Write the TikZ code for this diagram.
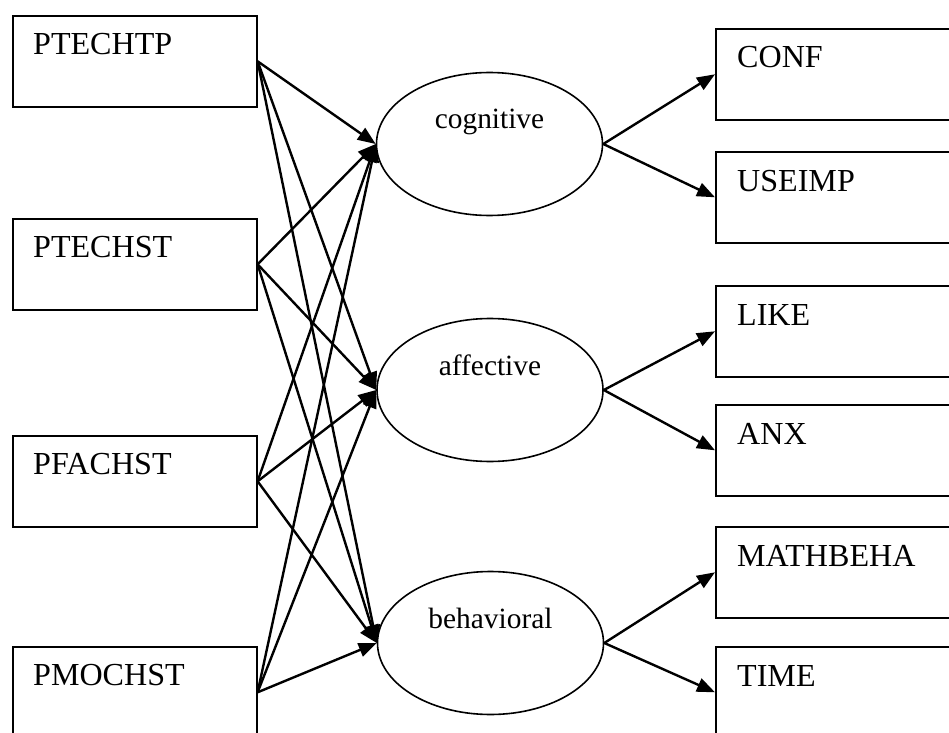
\documentclass[tikz,border=0pt]{standalone}
\usepackage{fontspec}
\setmainfont{Liberation Serif}
\usetikzlibrary{arrows.meta,calc,shapes.geometric}

\tikzset{
  varbox/.style={draw, line width=1.6bp, minimum width=244bp, minimum height=91bp,
                 inner sep=0pt, anchor=north west},
  indbox/.style={varbox, minimum width=300bp},
  boxtext/.style={font=\fontsize{32.2}{36}\selectfont, anchor=base west, inner sep=0pt},
  factor/.style={draw, ellipse, line width=1.6bp, minimum width=226bp,
                 minimum height=143bp, inner sep=0pt},
  factortext/.style={font=\fontsize{29.5}{34}\selectfont, anchor=base, inner sep=0pt},
  effect/.style={line width=2.4bp, -{Triangle[length=18bp,width=14bp]}}
}

\begin{document}
\begin{tikzpicture}[x=1bp, y=-1bp]
  \clip (0,0) rectangle (949,733);

  % predictors
  \node[varbox] (ptechtp) at (12,15)  {};
  \node[varbox] (ptechst) at (12,218) {};
  \node[varbox] (pfachst) at (12,435) {};
  \node[varbox] (pmochst) at (12,646) {};
  \node[boxtext] (t-ptechtp) at ($(ptechtp.north west)+(21,39.5)$) {PTECHTP};
  \node[boxtext] (t-ptechst) at ($(ptechst.north west)+(21,39.5)$) {PTECHST};
  \node[boxtext] (t-pfachst) at ($(pfachst.north west)+(21,39.5)$) {PFACHST};
  \node[boxtext] (t-pmochst) at ($(pmochst.north west)+(21,39.5)$) {PMOCHST};

  % latent attitude components
  \node[factor] (cog) at (489.5,144) {};
  \node[factor] (aff) at (490,390)   {};
  \node[factor] (beh) at (490.5,643) {};
  \node[factortext] (t-cog) at ($(cog.center)+(0,-15)$) {cognitive};
  \node[factortext] (t-aff) at ($(aff.center)+(0,-15)$) {affective};
  \node[factortext] (t-beh) at ($(beh.center)+(0,-15)$) {behavioral};

  % indicators
  \node[indbox] (conf)     at (715,28)  {};
  \node[indbox] (useimp)   at (715,151) {};
  \node[indbox] (like)     at (715,285) {};
  \node[indbox] (anx)      at (715,404) {};
  \node[indbox] (mathbeha) at (715,526) {};
  \node[indbox] (time)     at (715,646) {};
  \node[boxtext] (t-conf)     at ($(conf.north west)+(22,40)$)     {CONF};
  \node[boxtext] (t-useimp)   at ($(useimp.north west)+(22,40)$)   {USEIMP};
  \node[boxtext] (t-like)     at ($(like.north west)+(22,40)$)     {LIKE};
  \node[boxtext] (t-anx)      at ($(anx.north west)+(22,40)$)      {ANX};
  \node[boxtext] (t-mathbeha) at ($(mathbeha.north west)+(22,40)$) {MATHBEHA};
  \node[boxtext] (t-time)     at ($(time.north west)+(22,40)$)     {TIME};

  % every predictor to every component
  \foreach \p in {ptechtp,ptechst,pfachst,pmochst}
    \foreach \f in {cog,aff,beh}
      \draw[effect] (\p.east) -- (\f.west);

  % components to their indicators
  \draw[effect] (cog.east) -- (conf.west);
  \draw[effect] (cog.east) -- (useimp.west);
  \draw[effect] (aff.east) -- (like.west);
  \draw[effect] (aff.east) -- (anx.west);
  \draw[effect] (beh.east) -- (mathbeha.west);
  \draw[effect] (beh.east) -- (time.west);
\end{tikzpicture}
\end{document}
